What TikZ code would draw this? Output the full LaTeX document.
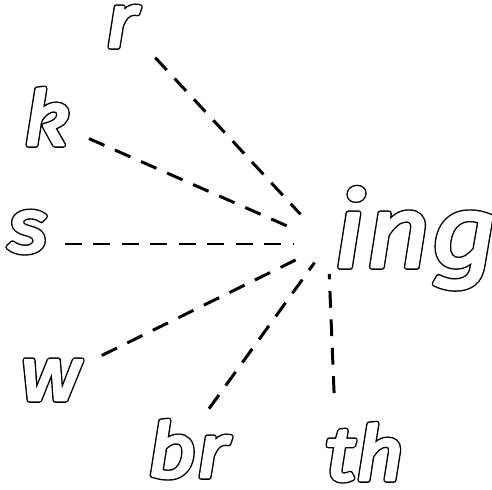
\documentclass[tikz,border=0pt]{standalone}
\usepackage{fontspec}
\newfontfamily\handfont{Fira Sans}[FakeStretch=1.12]
% outline letters: thick black stroke, then white fill + white stroke on top
\newcommand{\hollow}[1]{%
  \rlap{\special{pdf:literal direct 1 j 1 J 1 Tr 3.2 w}#1}%
  \special{pdf:literal direct 2 Tr 1.6 w 1 g 1 G}#1%
  \special{pdf:literal direct 0 Tr 0 g 0 G}}
\tikzset{
  letter/.style={inner sep=0pt, anchor=base west, font=\handfont\itshape\fontsize{43}{48}\selectfont},
  bigletter/.style={letter, font=\handfont\itshape\fontsize{58}{62}\selectfont},
  dashline/.style={line width=1.7pt, dash pattern=on 9.6pt off 6.6pt}
}
\begin{document}
\begin{tikzpicture}[x=0.02cm, y=-0.02cm]
	\useasboundingbox (0,0) rectangle (492,489);
	% word ending
	\node[bigletter] (ing) at (333,267) {\hollow{ing}};
	\coordinate (hub) at ([shift={(-5,-23)}]ing.base west);
	
	% onsets
	\node[letter] (r) at (105,47) {\hollow{r}};
	\node[letter] (k) at (23,145) {\hollow{k}};
	\node[letter] (s) at (8,252) {\hollow{s}};
	\node[letter] (w) at (20,400) {\hollow{w}};
	\node[letter] (br) at (147,477) {\hollow{br}};
	\node[letter] (th) at (325,480) {\hollow{th}};
	
	% dashed links
	\draw[dashline, shorten <=0.89cm, shorten >=0.81cm] ([shift={(20,-22)}]r.base west) -- (hub);
	\draw[dashline, shorten <=1.07cm, shorten >=0.73cm] ([shift={(17,-28)}]k.base west) -- (hub);
	\draw[dashline, shorten <=0.80cm, shorten >=0.70cm] ([shift={(17,-8)}]s.base west) -- (hub);
	\draw[dashline, shorten <=1.11cm, shorten >=0.56cm] ([shift={(32,-20)}]w.base west) -- (hub);
	\draw[dashline, shorten <=0.65cm, shorten >=0.46cm] ([shift={(43,-42)}]br.base west) -- (hub);
	\draw[dashline, shorten <=0.94cm, shorten >=0.60cm] ([shift={(11,-40)}]th.base west) -- (hub);
\end{tikzpicture}
\end{document}
